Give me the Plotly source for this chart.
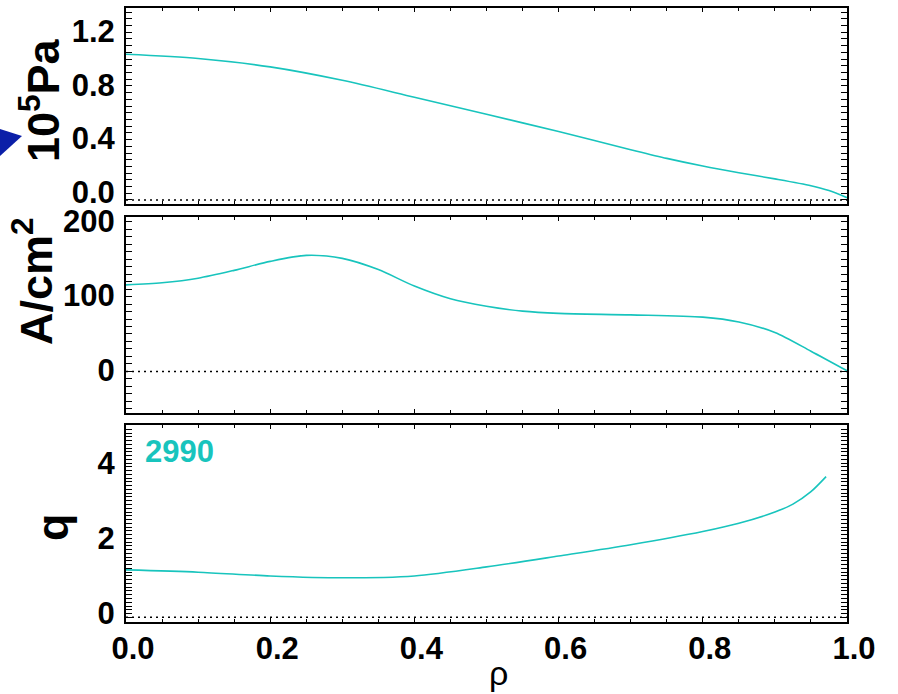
import plotly.graph_objects as go

# ---- data ----
rho_p = [0, .1, .2, .3, .4, .5, .6, .7, .75, .8, .85, .9, .95, .975, 1.0]
pressure = [1.086, 1.055, 0.992, 0.892, 0.766, 0.639, 0.510, 0.375, 0.310, 0.253, 0.203, 0.157,
            0.106, 0.070, 0.017]

rho_j = [0, .05, .1, .15, .2, .25, .3, .35, .4, .45, .5, .55, .6, .7, .8, .85, .9, .95, 1.0]
current = [115.6, 118.5, 124.5, 135, 147, 155, 151, 136, 114, 97, 87, 80.5, 77.5, 75.5, 72.5, 66,
           52, 27, 0.9]

rho_q = [0, .1, .2, .3, .4, .5, .6, .7, .8, .85, .9, .925, .95, .971]
q = [1.26, 1.20, 1.10, 1.05, 1.10, 1.34, 1.63, 1.93, 2.28, 2.50, 2.80, 3.01, 3.34, 3.74]

x_ticks = [0, 0.2, 0.4, 0.6, 0.8, 1.0]
x_labels = ["0.0", "0.2", "0.4", "0.6", "0.8", "1.0"]
p_ticks = [0, 0.4, 0.8, 1.2]
p_labels = ["0.0", "0.4", "0.8", "1.2"]
j_ticks = [0, 100, 200]
j_labels = ["0", "100", "200"]
q_ticks = [0, 2, 4]
q_labels = ["0", "2", "4"]
shot_label = "2990"

TEAL = "#18C4BD"
W, H = 898, 694
L, R, T, B = 126, 51, 8, 72
PW, PH = W - L - R, H - T - B


def px(xp):
    return (xp - L) / PW


def py(yp):
    return (H - B - yp) / PH


FONT = "Liberation Sans, Arial, Helvetica, sans-serif"
tickfont = dict(family=FONT, size=31, color="black", weight="bold")

fig = go.Figure()

panels = [
    (rho_p, pressure, "x", "y"),
    (rho_j, current, "x2", "y2"),
    (rho_q, q, "x3", "y3"),
]
for xs, ys, xa, ya in panels:
    fig.add_trace(go.Scatter(x=[0, 1], y=[0, 0], mode="lines", xaxis=xa, yaxis=ya,
                             line=dict(color="black", width=1.5, dash="2px,4px"),
                             hoverinfo="skip", showlegend=False))
    fig.add_trace(go.Scatter(x=xs, y=ys, mode="lines", xaxis=xa, yaxis=ya,
                             line=dict(color=TEAL, width=1.6, shape="spline", smoothing=0.8),
                             showlegend=False))

xcommon = dict(range=[0, 1], showline=True, linewidth=2, linecolor="black", mirror="ticks",
               ticks="inside", ticklen=4, tickwidth=1, tickcolor="black",
               tickvals=x_ticks, ticktext=x_labels, automargin=False,
               minor=dict(dtick=0.05, tick0=0, ticks="inside", ticklen=3, tickcolor="black"),
               showgrid=False, zeroline=False, tickfont=tickfont)

ycommon = dict(showline=True, linewidth=2, linecolor="black", mirror="ticks",
               ticks="inside", ticklen=6, tickwidth=1, tickcolor="black", automargin=False,
               showgrid=False, zeroline=False, tickfont=tickfont, ticklabelstandoff=3)

doms = [(py(204), 1.0), (py(413), py(217)), (0.0, py(425))]

fig.update_layout(
    template="none",
    width=W, height=H,
    margin=dict(l=L, r=R, t=T, b=B, autoexpand=False),
    paper_bgcolor="white", plot_bgcolor="white",
    showlegend=False,
    xaxis=dict(xcommon, anchor="y", showticklabels=False),
    xaxis2=dict(xcommon, anchor="y2", showticklabels=False),
    xaxis3=dict(xcommon, anchor="y3", showticklabels=True, ticklabelshift=7, ticklabelstandoff=-2),
    yaxis=dict(ycommon, anchor="x", domain=doms[0], range=[-0.03, 1.431],
               tickvals=p_ticks, ticktext=p_labels, ticklabelshift=-8,
               minor=dict(dtick=0.05, tick0=0, ticks="inside", ticklen=6, tickcolor="black")),
    yaxis2=dict(ycommon, anchor="x2", domain=doms[1], range=[-55.6, 206.3],
                tickvals=j_ticks, ticktext=j_labels, ticklabelshift=-1,
                minor=dict(dtick=10, tick0=0, ticks="inside", ticklen=6, tickcolor="black")),
    yaxis3=dict(ycommon, anchor="x3", domain=doms[2], range=[-0.125, 5.114],
                tickvals=q_ticks, ticktext=q_labels, ticklabelshift=-4,
                minor=dict(dtick=0.1, tick0=0, ticks="inside", ticklen=6, tickcolor="black")),
)

TITLEFONT = dict(family=FONT, size=45, color="black", weight="bold")
annos = [
    dict(text="10<sup>5</sup>Pa", x=px(40), y=py(100), textangle=-90, font=TITLEFONT),
    dict(text="A/cm<sup>2</sup>", x=px(33), y=py(281), textangle=-90, font=TITLEFONT),
    dict(text="q", x=px(52), y=py(527), textangle=-90, font=TITLEFONT),
]
for a in annos:
    fig.add_annotation(xref="paper", yref="paper", xanchor="center", yanchor="middle",
                       showarrow=False, **a)

fig.add_annotation(xref="paper", yref="paper", x=px(498), y=py(673), text="ρ",
                   showarrow=False, xanchor="center", yanchor="middle",
                   font=dict(family=FONT, size=34, color="black"))
fig.add_annotation(xref="paper", yref="paper", x=px(143), y=py(451.5), text=shot_label,
                   showarrow=False, xanchor="left", yanchor="middle",
                   font=dict(family=FONT, size=31, color=TEAL, weight="bold"))

# partial blue triangle marker at the left edge
tri = [(0, 129), (22, 136), (0, 156)]
path = "M " + " L ".join(f"{px(a):.5f},{py(b):.5f}" for a, b in tri) + " Z"
fig.add_shape(type="path", xref="paper", yref="paper", path=path,
              fillcolor="#0B1FA8", line=dict(width=0))

fig.write_html("out.html")
